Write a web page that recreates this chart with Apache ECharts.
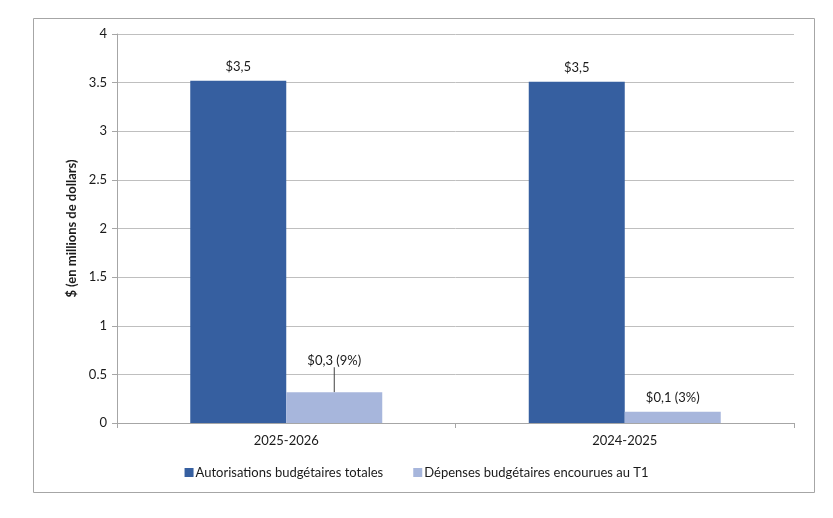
<!DOCTYPE html>
<html>
<head>
<meta charset="utf-8">
<script src="https://cdn.jsdelivr.net/npm/echarts@6/dist/echarts.min.js"></script>
<style>
html,body{margin:0;padding:0;background:#fff;}
#chart{width:833px;height:518px;}
</style>
</head>
<body>
<div id="chart"></div>
<script>
const categories = ['2025-2026', '2024-2025'];
const autorisations = [3.52, 3.51];
const depenses = [0.316, 0.116];
const autorisationsLabels = ['$3,5', '$3,5'];
const depensesLabels = ['$0,3 (9%)', '$0,1 (3%)'];
const yTicks = [0, 0.5, 1, 1.5, 2, 2.5, 3, 3.5, 4];
const seriesNames = ['Autorisations budgétaires totales', 'Dépenses budgétaires encourues au T1'];

const FONT = 'Lato, "Open Sans", sans-serif';
const TXT = '#1a1a1a';

const chart = echarts.init(document.getElementById('chart'), null, {renderer: 'canvas'});
chart.setOption({
  animation: false,
  backgroundColor: '#fff',
  textStyle: {fontFamily: FONT},
  graphic: [{
    type: 'rect', silent: true, z: -1,
    shape: {x: 33.5, y: 18.5, width: 781, height: 474},
    style: {fill: 'none', stroke: '#a6a6a6', lineWidth: 1}
  }],
  legend: {
    bottom: 34,
    left: 'center',
    itemWidth: 9, itemHeight: 9, itemGap: 30,
    icon: 'rect',
    textStyle: {fontSize: 13, color: TXT, fontFamily: FONT, padding: [0, 0, 0, -3]},
    data: seriesNames
  },
  grid: {left: 117, right: 39, top: 34, bottom: 95},
  xAxis: {
    type: 'category',
    data: categories,
    axisLine: {lineStyle: {color: '#a6a6a6'}},
    axisTick: {show: true, length: 5, lineStyle: {color: '#a6a6a6'}},
    axisLabel: {fontSize: 13, color: TXT, margin: 11, fontFamily: FONT}
  },
  yAxis: {
    type: 'value',
    min: yTicks[0], max: yTicks[yTicks.length - 1], interval: 0.5,
    name: '$ (en millions de dollars)',
    nameLocation: 'middle', nameRotate: 90, nameGap: 36,
    nameTextStyle: {fontSize: 13, fontWeight: 'bold', color: TXT, fontFamily: FONT},
    axisLine: {show: true, lineStyle: {color: '#a6a6a6'}},
    axisTick: {show: true, length: 5, lineStyle: {color: '#a6a6a6'}},
    axisLabel: {fontSize: 13, color: TXT, margin: 10, fontFamily: FONT},
    splitLine: {lineStyle: {color: '#bfbfbf'}}
  },
  series: [
    {
      name: seriesNames[0], type: 'bar',
      barWidth: 96, barGap: '0%',
      itemStyle: {color: '#365fa0'},
      data: autorisations.map((v, i) => ({value: v, label: {formatter: autorisationsLabels[i]}})),
      label: {show: true, position: 'top', distance: 7, fontSize: 13, color: TXT, fontFamily: FONT}
    },
    {
      name: seriesNames[1], type: 'bar',
      barWidth: 96, barGap: '0%',
      itemStyle: {color: '#a7b6dc'},
      data: depenses.map((v, i) => ({
        value: v,
        label: {formatter: depensesLabels[i]},
        labelLine: {show: i === 0, lineStyle: {color: '#404040', width: 1}}
      })),
      label: {show: true, position: 'top', distance: 7, fontSize: 13, color: TXT, fontFamily: FONT},
      labelLayout: function (params) {
        return params.dataIndex === 0 ? {dy: -18} : {};
      },
      labelLine: {show: false, lineStyle: {color: '#404040', width: 1}}
    }
  ]
});
</script>
</body>
</html>
